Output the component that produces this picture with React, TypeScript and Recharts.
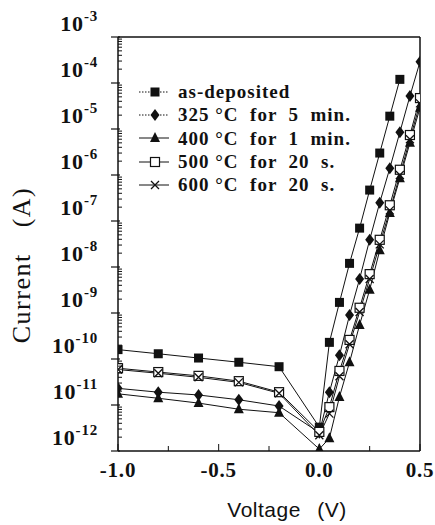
import React from "react";
import { LineChart, Line, XAxis, YAxis, Label } from "recharts";

// bias points (V)
const reverseVolts = [-1.0, -0.8, -0.6, -0.4, -0.2, 0.0];
const forwardVolts = [0.05, 0.1, 0.15, 0.2, 0.25, 0.3, 0.35, 0.4, 0.45, 0.5];

// measured currents (A), reverse points first, then forward points
const asDeposited = [
  1.6e-10, 1.3e-10, 1.05e-10, 8.5e-11, 6.8e-11, 3.3e-12,
  2.3e-10, 1.7e-9, 1.2e-8, 7e-8, 4.7e-7, 3e-6, 1.9e-5, 1.2e-4,
];
const anneal325 = [
  2.3e-11, 1.9e-11, 1.65e-11, 1.3e-11, 9.5e-12, 2.5e-12,
  1.9e-11, 1.2e-10, 9e-10, 5.5e-9, 3.9e-8, 2.5e-7, 1.4e-6, 8.5e-6, 5.2e-5, 2.9e-4,
];
const anneal400 = [
  1.75e-11, 1.4e-11, 1.1e-11, 8.1e-12, 6.8e-12, 1.1e-12,
  1.9e-12, 1.5e-11, 8.5e-11, 5.5e-10, 3.2e-9, 2.3e-8, 1.5e-7, 8.5e-7, 5e-6, 2.9e-5,
];
const anneal500 = [
  6.3e-11, 5.2e-11, 4.3e-11, 3.3e-11, 1.9e-11, 2.6e-12,
  9e-12, 5.5e-11, 2.6e-10, 1.3e-9, 7e-9, 3.9e-8, 2.2e-7, 1.3e-6, 7.4e-6, 4.7e-5,
];
const anneal600 = [
  5.9e-11, 4.9e-11, 4.0e-11, 3.1e-11, 1.8e-11, 2.2e-12,
  6.5e-12, 4.2e-11, 2.1e-10, 1.05e-9, 5.5e-9, 3.1e-8, 1.7e-7, 1.0e-6, 6e-6, 3.6e-5,
];

const seriesNames = [
  "as-deposited",
  "325 \u00b0C  for  5  min.",
  "400 \u00b0C  for  1  min.",
  "500 \u00b0C  for  20  s.",
  "600 \u00b0C  for  20  s.",
];
const seriesValues = [asDeposited, anneal325, anneal400, anneal500, anneal600];
const seriesShapes = ["square", "diamond", "triangle", "openSquare", "cross"];

const xTicks = [-1.0, -0.75, -0.5, -0.25, 0.0, 0.25, 0.5];
const xLabelTicks = [-1.0, -0.5, 0.0, 0.5];
const decades = [1e-12, 1e-11, 1e-10, 1e-9, 1e-8, 1e-7, 1e-6, 1e-5, 1e-4, 1e-3];

const minorTicks: number[] = [];
decades.slice(0, -1).forEach((d) => {
  for (let m = 2; m <= 9; m++) minorTicks.push(d * m);
});
const yTicks = [...decades, ...minorTicks];

const allVolts = [...reverseVolts, ...forwardVolts];
const seriesData = seriesValues.map((vals) =>
  vals.map((current, i) => ({ v: allVolts[i], current }))
);

const SERIF = "'Liberation Serif', 'DejaVu Serif', serif";
const INK = "#111";

const M_TOP = 37;

const Marker = ({ shape, cx, cy }: { shape: string; cx: number; cy: number }) => {
  switch (shape) {
    case "square":
      return <rect x={cx - 4.5} y={cy - 4.5} width={9} height={9} fill={INK} />;
    case "diamond":
      return (
        <polygon
          points={`${cx},${cy - 6} ${cx + 4.5},${cy} ${cx},${cy + 6} ${cx - 4.5},${cy}`}
          fill={INK}
        />
      );
    case "triangle":
      return (
        <polygon
          points={`${cx},${cy - 6} ${cx + 5},${cy + 4} ${cx - 5},${cy + 4}`}
          fill={INK}
        />
      );
    case "openSquare":
      return (
        <rect x={cx - 4.5} y={cy - 4.5} width={9} height={9} fill="#fff" stroke={INK} strokeWidth={1.2} />
      );
    default:
      return (
        <path
          d={`M${cx - 4},${cy - 4}L${cx + 4},${cy + 4}M${cx - 4},${cy + 4}L${cx + 4},${cy - 4}`}
          stroke={INK}
          strokeWidth={1.3}
        />
      );
  }
};

const makeDot = (shape: string) => (props: any) => {
  const { cx, cy, index } = props;
  if (cx == null || cy == null) return <g key={index} />;
  return (
    <g key={`${shape}-${index}`}>
      <Marker shape={shape} cx={cx} cy={cy} />
    </g>
  );
};

const YTick = (props: any) => {
  const { x, y, payload } = props;
  const val = payload.value as number;
  const exp = Math.round(Math.log10(val));
  const isMajor = Math.abs(val - Math.pow(10, exp)) / val < 1e-6;
  if (!isMajor) {
    return <line x1={x} x2={x + 4} y1={y} y2={y} stroke={INK} strokeWidth={1} />;
  }
  return (
    <g>
      <line x1={x - 7} x2={x + 2} y1={y} y2={y} stroke={INK} strokeWidth={1.2} />
      <text
        x={x - 20}
        y={y - 6}
        textAnchor="end"
        fontFamily={SERIF}
        fontSize={22}
        fontWeight="bold"
        fill={INK}
        letterSpacing={0.8}
      >
        10
        <tspan dy={-10} fontSize={15}>
          {String(exp)}
        </tspan>
      </text>
    </g>
  );
};

const XTick = (props: any) => {
  const { x, y, payload } = props;
  const val = payload.value as number;
  const hasLabel = xLabelTicks.some((t) => Math.abs(t - val) < 1e-9);
  return (
    <g>
      <line x1={x} x2={x} y1={y} y2={y - (hasLabel ? 7 : 5)} stroke={INK} strokeWidth={1} />
      {hasLabel && (
        <text
          x={x}
          y={y + 26}
          textAnchor="middle"
          fontFamily={SERIF}
          fontSize={21}
          fontWeight="bold"
          fill={INK}
          letterSpacing={0.8}
        >
          {val.toFixed(1)}
        </text>
      )}
    </g>
  );
};

// x-axis title plus the top and right edges of the plot frame
const XAxisTitle = (p: any) => {
  const vb = p.viewBox || {};
  const x = vb.x ?? 118;
  const y = vb.y ?? 451;
  const width = vb.width ?? 302;
  return (
    <g className="plot-frame">
      <line x1={x} y1={M_TOP} x2={x + width} y2={M_TOP} stroke={INK} strokeWidth={1.5} />
      <line x1={x + width} y1={M_TOP} x2={x + width} y2={y} stroke={INK} strokeWidth={1.5} />
      <text
        x={x + width / 2 + 18}
        y={y + 66}
        textAnchor="middle"
        fontFamily="'Liberation Sans', Arial, sans-serif"
        fontSize={21}
        fill={INK}
        style={{ wordSpacing: 10, letterSpacing: 0.5 }}
      >
        Voltage (V)
      </text>
    </g>
  );
};

const LegendBox = () => (
  <div
    style={{
      position: "absolute",
      left: 138,
      top: 80,
      fontFamily: SERIF,
      fontSize: 19,
      fontWeight: "bold",
      color: INK,
      lineHeight: "23.3px",
    }}
  >
    {seriesNames.map((name, i) => (
      <div key={name} style={{ display: "flex", alignItems: "center", whiteSpace: "pre" }}>
        <svg width={32} height={14} style={{ marginRight: 8 }}>
          <line x1={1} x2={31} y1={7} y2={7} stroke={INK} strokeWidth={1} strokeDasharray={i === 0 || i === 1 ? "1.5 1.5" : undefined} />
          <Marker shape={seriesShapes[i]} cx={17} cy={7} />
        </svg>
        <span style={{ letterSpacing: 1 }}>{name}</span>
      </div>
    ))}
  </div>
);

const frameAxisLine = { stroke: INK, strokeWidth: 1.5 };

export default function App() {
  return (
    <div style={{ position: "absolute", left: 0, top: 0, width: 435, height: 525, background: "#fff" }}>
      <LineChart
        width={435}
        height={525}
        margin={{ top: M_TOP, right: 15, bottom: 0, left: 0 }}
      >
        <XAxis
          dataKey="v"
          type="number"
          domain={[-1, 0.5]}
          ticks={xTicks}
          interval={0}
          tickSize={0}
          tickMargin={0}
          tickLine={false}
          tick={<XTick />}
          axisLine={frameAxisLine}
          height={74}
          allowDataOverflow
        >
          <Label content={XAxisTitle} />
        </XAxis>
        <YAxis
          dataKey="current"
          type="number"
          scale="log"
          domain={[1e-12, 1e-3]}
          ticks={yTicks}
          interval={0}
          tickSize={0}
          tickMargin={0}
          tickLine={false}
          tick={<YTick />}
          axisLine={frameAxisLine}
          width={118}
          allowDataOverflow
        >
          <Label
            content={() => {
              const cx = 24;
              const cy = 265;
              return (
                <text
                  x={cx}
                  y={cy}
                  transform={`rotate(-90 ${cx} ${cy})`}
                  textAnchor="middle"
                  dominantBaseline="middle"
                  fontFamily={SERIF}
                  fontSize={26}
                  fill={INK}
                  style={{ wordSpacing: 18, letterSpacing: 1.5 }}
                >
                  Current (A)
                </text>
              );
            }}
          />
        </YAxis>
        {seriesData.map((data, i) => (
          <Line
            key={seriesNames[i]}
            data={data}
            dataKey="current"
            name={seriesNames[i]}
            type="linear"
            stroke={INK}
            strokeWidth={1}
            dot={makeDot(seriesShapes[i])}
            activeDot={false}
            isAnimationActive={false}
          />
        ))}
      </LineChart>
      <LegendBox />
    </div>
  );
}
